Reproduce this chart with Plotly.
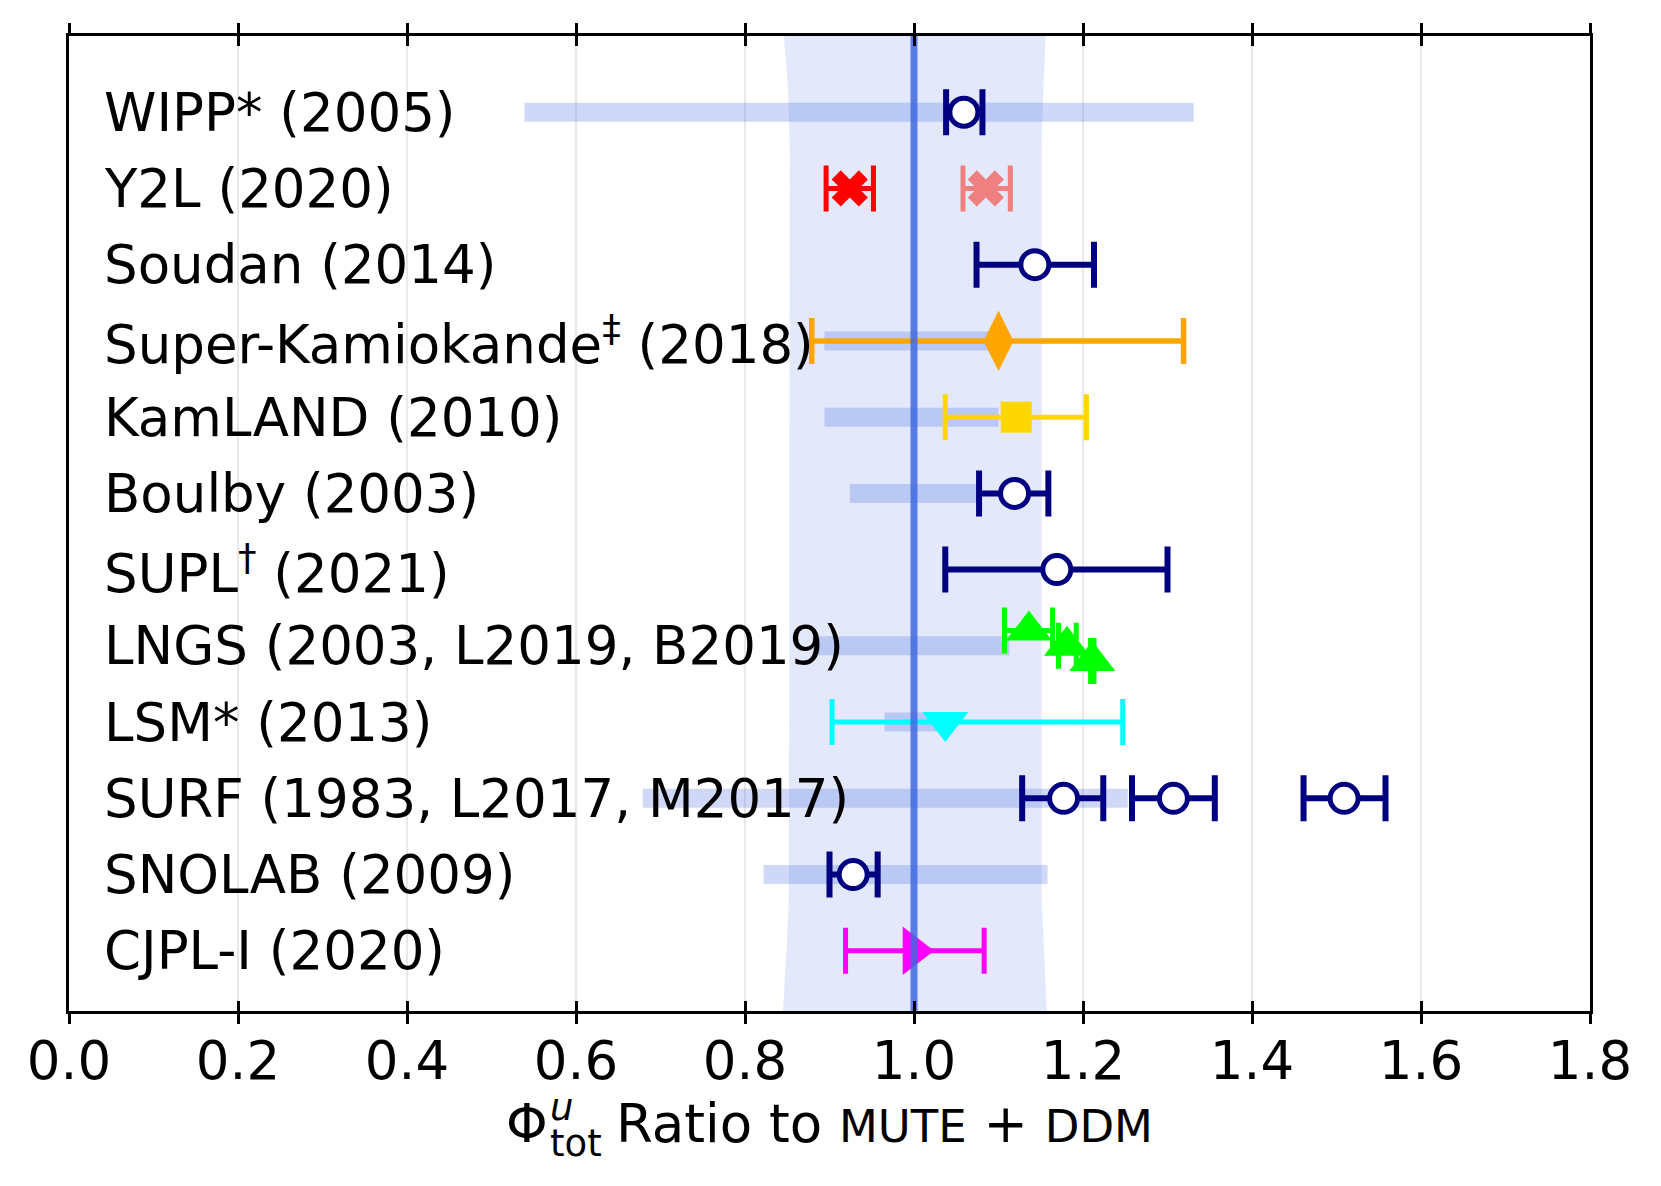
import plotly.graph_objects as go

# ---------------- data ----------------
labels = ["WIPP* (2005)", "Y2L (2020)", "Soudan (2014)",
          "Super-Kamiokande<sup>‡</sup> (2018)", "KamLAND (2010)", "Boulby (2003)",
          "SUPL<sup>†</sup> (2021)", "LNGS (2003, L2019, B2019)", "LSM* (2013)",
          "SURF (1983, L2017, M2017)", "SNOLAB (2009)", "CJPL-I (2020)"]
rows = list(range(len(labels)))

# light range bars (row index, low, high)
bar_rows = [0, 3, 4, 5, 7, 8, 9, 10]
bar_lo = [0.539, 0.894, 0.894, 0.924, 0.880, 0.965, 0.679, 0.822]
bar_hi = [1.331, 1.095, 1.100, 1.078, 1.113, 1.033, 1.253, 1.158]

# MUTE + DDM uncertainty band (row position, low, high)
band_y = [-1.0, -0.3, 0.5, 10.3, 11.0, 11.79]
band_lo = [0.846, 0.851, 0.853, 0.852, 0.849, 0.845]
band_hi = [1.156, 1.153, 1.151, 1.151, 1.154, 1.157]

# measurements: (row, value, low, high)
navy_row = [0, 2, 5, 6, 9, 9, 9, 10]
navy_val = [1.059, 1.143, 1.119, 1.169, 1.177, 1.307, 1.509, 0.928]
navy_lo = [1.038, 1.074, 1.077, 1.037, 1.128, 1.258, 1.461, 0.900]
navy_hi = [1.081, 1.213, 1.159, 1.300, 1.224, 1.356, 1.558, 0.957]

y2l_row = [1]
y2l_val = [0.924]
y2l_lo = [0.896]
y2l_hi = [0.952]

y2l_b_row = [1]
y2l_b_val = [1.085]
y2l_b_lo = [1.058]
y2l_b_hi = [1.114]

sk_row = [3]
sk_val = [1.100]
sk_lo = [0.879]
sk_hi = [1.319]

kam_row = [4]
kam_val = [1.121]
kam_lo = [1.037]
kam_hi = [1.204]

lngs_row = [6.8, 7.0, 7.2]
lngs_val = [1.136, 1.181, 1.211]
lngs_lo = [1.107, 1.171, 1.209]
lngs_hi = [1.164, 1.192, 1.213]

lsm_row = [8]
lsm_val = [1.037]
lsm_lo = [0.903]
lsm_hi = [1.247]

cjpl_row = [11]
cjpl_val = [0.999]
cjpl_lo = [0.919]
cjpl_hi = [1.083]

x_ticks = [0.0, 0.2, 0.4, 0.6, 0.8, 1.0, 1.2, 1.4, 1.6, 1.8]
ref_value = 1.0

# ---------------- figure ----------------
FONT = "DejaVu Sans"
fig = go.Figure()

# band
fig.add_trace(go.Scatter(
    x=band_lo + band_hi[::-1], y=band_y + band_y[::-1],
    fill="toself", fillcolor="rgba(65,105,225,0.15)",
    line=dict(width=0), mode="lines", hoverinfo="skip", showlegend=False))

# range bars
for r, lo, hi in zip(bar_rows, bar_lo, bar_hi):
    fig.add_trace(go.Scatter(
        x=[lo, hi], y=[r, r], mode="lines",
        line=dict(color="rgba(65,105,225,0.25)", width=19),
        hoverinfo="skip", showlegend=False))


def add_points(rws, val, lo, hi, color, symbol, size, thick, fill=None, lw=0):
    fig.add_trace(go.Scatter(
        x=val, y=rws, mode="markers",
        error_x=dict(type="data", symmetric=False,
                     array=[h - v for h, v in zip(hi, val)],
                     arrayminus=[v - l for v, l in zip(val, lo)],
                     color=color, thickness=thick, width=23),
        marker=dict(symbol=symbol, size=size,
                    color=fill if fill else color,
                    line=dict(color=color, width=lw)),
        showlegend=False))


add_points(y2l_row, y2l_val, y2l_lo, y2l_hi, "#FF0000", "x", 32, 5)
add_points(y2l_b_row, y2l_b_val, y2l_b_lo, y2l_b_hi, "#F08080", "x", 32, 5)
add_points(sk_row, sk_val, sk_lo, sk_hi, "#FFA500", "diamond-tall", 43, 5.5)
add_points(kam_row, kam_val, kam_lo, kam_hi, "#FFD700", "square", 31, 5)
add_points(lngs_row, lngs_val, lngs_lo, lngs_hi, "#00FF00", "triangle-up", 40, 5)
add_points(lsm_row, lsm_val, lsm_lo, lsm_hi, "#00FFFF", "triangle-down", 40, 5)
add_points(cjpl_row, cjpl_val, cjpl_lo, cjpl_hi, "#FF00FF", "triangle-right", 42, 5)
add_points(navy_row, navy_val, navy_lo, navy_hi, "#000080", "circle", 28, 6,
           fill="white", lw=5)

# reference line at 1.0
fig.add_trace(go.Scatter(
    x=[ref_value, ref_value], y=[band_y[0], band_y[-1]], mode="lines",
    line=dict(color="rgba(65,105,225,0.85)", width=7),
    hoverinfo="skip", showlegend=False))

# dummy trace for the inner-tick overlay axis
fig.add_trace(go.Scatter(x=[None], y=[None], xaxis="x2", showlegend=False))

# row labels
for r, lab in zip(rows, labels):
    fig.add_annotation(x=0.039, y=r, xref="x", yref="y", text=lab,
                       showarrow=False, xanchor="left", yanchor="middle",
                       font=dict(family=FONT, size=53, color="black"))

# x-axis title built from pieces (Φ with stacked super/subscript)
title_font = dict(family=FONT, size=53, color="black")
small_font = dict(family=FONT, size=37, color="black")
fig.add_annotation(x=0.286, y=-0.1153, xref="paper", yref="paper", text="Φ",
                   showarrow=False, xanchor="left", yanchor="middle", font=title_font)
fig.add_annotation(x=0.315, y=-0.0987, xref="paper", yref="paper", text="<i>u</i>",
                   showarrow=False, xanchor="left", yanchor="middle", font=small_font)
fig.add_annotation(x=0.315, y=-0.1354, xref="paper", yref="paper", text="tot",
                   showarrow=False, xanchor="left", yanchor="middle", font=small_font)
fig.add_annotation(
    x=0.3583, y=-0.1153, xref="paper", yref="paper",
    text="Ratio to <span style='font-size:45px'>MUTE</span> + "
         "<span style='font-size:45px'>DDM</span>",
    showarrow=False, xanchor="left", yanchor="middle", font=title_font)

fig.update_layout(
    width=1661, height=1186,
    margin=dict(l=61, r=79, t=28, b=183),
    paper_bgcolor="white", plot_bgcolor="white",
    font=dict(family=FONT, color="black"),
    xaxis=dict(range=[0, 1.8], tickvals=x_ticks,
               ticktext=[f"{v:.1f}" for v in x_ticks],
               ticks="outside", ticklen=10, tickwidth=2.5, tickcolor="black",
               ticklabelstandoff=-8,
               showline=True, linewidth=2.5, linecolor="black", mirror="ticks",
               showgrid=True, gridcolor="#e8e8e8", gridwidth=2,
               zeroline=False, tickfont=dict(family=FONT, size=53, color="black")),
    xaxis2=dict(range=[0, 1.8], overlaying="x", matches="x", tickvals=x_ticks,
                ticks="inside", ticklen=10, tickwidth=2.5, tickcolor="black",
                showline=False, mirror="ticks", showticklabels=False,
                showgrid=False, zeroline=False),
    yaxis=dict(range=[11.79, -1.0], showticklabels=False, ticks="",
               showgrid=False, zeroline=False, showline=True, linewidth=2.5,
               linecolor="black", mirror=True),
)

fig.write_html("out.html")
